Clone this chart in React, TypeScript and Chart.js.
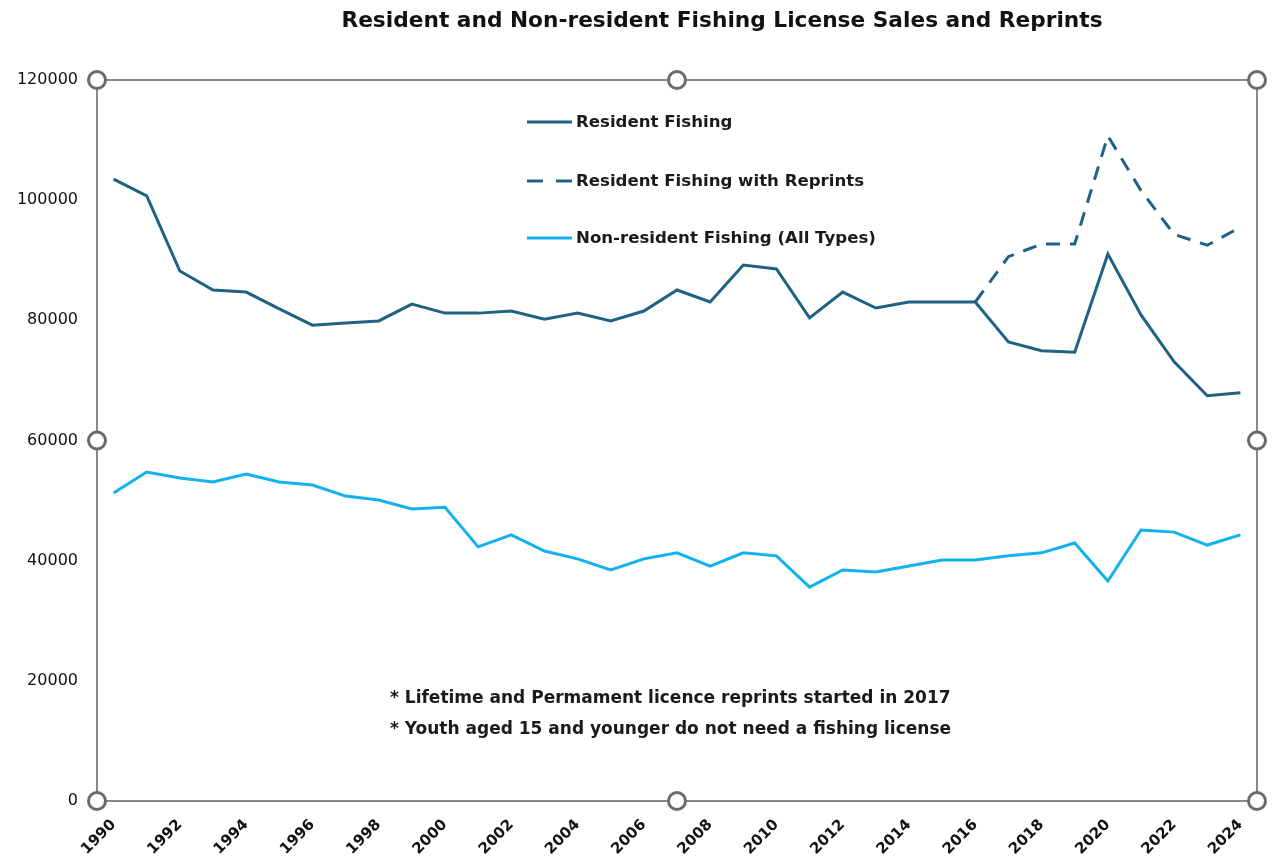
import React, { useEffect, useRef } from "react";
import { Chart, registerables } from "chart.js";

Chart.register(...registerables);

const years: string[] = [
  "1990","1991","1992","1993","1994","1995","1996","1997","1998","1999",
  "2000","2001","2002","2003","2004","2005","2006","2007","2008","2009",
  "2010","2011","2012","2013","2014","2015","2016","2017","2018","2019",
  "2020","2021","2022","2023","2024",
];

const residentFishing: number[] = [
  103500, 100700, 88200, 85050, 84700, 81900, 79200, 79550, 79900, 82700,
  81200, 81200, 81550, 80200, 81200, 79900, 81550, 85050, 83050, 89200,
  88550, 80400, 84700, 82050, 83050, 83050, 83050, 76400, 74950, 74700,
  91050, 80900, 73100, 67450, 67950,
];

const residentWithReprints: (number | null)[] = [
  null, null, null, null, null, null, null, null, null, null,
  null, null, null, null, null, null, null, null, null, null,
  null, null, null, null, null, null, 83050, 90600, 92700, 92700,
  110700, 101600, 94300, 92500, 95500,
];

const nonResidentFishing: number[] = [
  51250, 54750, 53750, 53100, 54400, 53100, 52600, 50750, 50100, 48600,
  48900, 42300, 44300, 41600, 40300, 38450, 40300, 41300, 39100, 41300,
  40800, 35600, 38450, 38100, 39100, 40100, 40100, 40800, 41300, 42950,
  36600, 45100, 44750, 42600, 44300,
];

const yTicks: number[] = [0, 20000, 40000, 60000, 80000, 100000, 120000];

const titleText = "Resident and Non-resident Fishing License Sales and Reprints";
const legendLabels: string[] = [
  "Resident Fishing",
  "Resident Fishing with Reprints",
  "Non-resident Fishing (All Types)",
];
const noteLines: string[] = [
  "* Lifetime and Permament licence reprints started in 2017",
  "* Youth aged 15 and younger do not need a fishing license",
];

const DARK = "#1f6283";
const LIGHT = "#12b1ef";
const FONT = "'DejaVu Sans', 'Liberation Sans', sans-serif";

const decorPlugin = {
  id: "decor",
  beforeDatasetsDraw(chart: any) {
    const { ctx, chartArea } = chart;
    ctx.save();
    ctx.strokeStyle = "#8a8a8a";
    ctx.lineWidth = 2;
    ctx.strokeRect(chartArea.left, chartArea.top, chartArea.right - chartArea.left, chartArea.bottom - chartArea.top);
    ctx.restore();
  },
  afterDraw(chart: any) {
    const { ctx, chartArea } = chart;
    const { left, right, top, bottom } = chartArea;
    ctx.save();
    // title
    ctx.fillStyle = "#111";
    ctx.font = `bold 21.7px ${FONT}`;
    ctx.textAlign = "center";
    ctx.textBaseline = "middle";
    ctx.fillText(titleText, 722, 21);

    // legend
    const legendX = 527;
    const legendYs = [122, 181, 238];
    const colors = [DARK, DARK, LIGHT];
    ctx.textAlign = "left";
    ctx.font = `bold 16.6px ${FONT}`;
    legendYs.forEach((ly, i) => {
      ctx.strokeStyle = colors[i];
      ctx.lineWidth = 3;
      ctx.setLineDash(i === 1 ? [16, 13] : []);
      ctx.beginPath();
      ctx.moveTo(legendX, ly);
      ctx.lineTo(legendX + 45, ly);
      ctx.stroke();
      ctx.setLineDash([]);
      ctx.fillStyle = "#1a1a1a";
      ctx.fillText(legendLabels[i], legendX + 49, ly + 1);
    });

    // notes
    ctx.font = `bold 17px ${FONT}`;
    noteLines.forEach((t, i) => {
      ctx.fillText(t, 390, 699 + i * 31);
    });

    // handles
    const midX = (left + right) / 2;
    const midY = (top + bottom) / 2;
    const pts = [
      [left, top], [midX, top], [right, top],
      [left, midY], [right, midY],
      [left, bottom], [midX, bottom], [right, bottom],
    ];
    ctx.lineWidth = 3;
    ctx.strokeStyle = "#6b6b6b";
    ctx.fillStyle = "#ffffff";
    pts.forEach(([x, y]) => {
      ctx.beginPath();
      ctx.arc(x, y, 8.5, 0, Math.PI * 2);
      ctx.fill();
      ctx.stroke();
    });
    ctx.restore();
  },
};

export default function App() {
  const canvasRef = useRef<HTMLCanvasElement | null>(null);

  useEffect(() => {
    document.body.style.margin = "0";
    const canvas = canvasRef.current;
    if (!canvas) return;
    const chart = new Chart(canvas, {
      type: "line",
      data: {
        labels: years,
        datasets: [
          {
            label: legendLabels[0],
            data: residentFishing,
            borderColor: DARK,
            borderWidth: 3,
            pointRadius: 0,
            tension: 0,
          },
          {
            label: legendLabels[1],
            data: residentWithReprints,
            borderColor: DARK,
            borderWidth: 3,
            borderDash: [14, 10],
            pointRadius: 0,
            tension: 0,
          },
          {
            label: legendLabels[2],
            data: nonResidentFishing,
            borderColor: LIGHT,
            borderWidth: 3,
            pointRadius: 0,
            tension: 0,
          },
        ],
      },
      options: {
        responsive: false,
        animation: false,
        devicePixelRatio: 1,
        layout: { padding: { top: 80, right: 21, left: 0, bottom: 0 } },
        plugins: {
          legend: { display: false },
          title: { display: false },
          tooltip: { enabled: false },
        },
        scales: {
          x: {
            type: "category",
            offset: true,
            grid: { display: false, drawTicks: false },
            border: { display: false },
            ticks: {
              autoSkip: false,
              maxRotation: 45,
              minRotation: 45,
              padding: 15,
              color: "#111",
              font: { family: FONT, size: 15, weight: "bold" },
              callback: (_v: any, i: number) => (i % 2 === 0 ? years[i] : ""),
            },
            afterFit: (scale: any) => {
              scale.height = 56;
            },
          },
          y: {
            min: 0,
            max: 120000,
            afterBuildTicks: (scale: any) => {
              scale.ticks = yTicks.map((v) => ({ value: v }));
            },
            grid: { display: false, drawTicks: false },
            border: { display: false },
            ticks: {
              padding: 19,
              color: "#111",
              font: { family: FONT, size: 16 },
              callback: (v: any) => String(v),
            },
            afterFit: (scale: any) => {
              scale.width = 97;
            },
          },
        },
      },
      plugins: [decorPlugin],
    });
    return () => chart.destroy();
  }, []);

  return (
    <div style={{ width: 1278, height: 857, background: "#fff" }}>
      <canvas ref={canvasRef} width={1278} height={857} style={{ width: 1278, height: 857, display: "block" }} />
    </div>
  );
}
